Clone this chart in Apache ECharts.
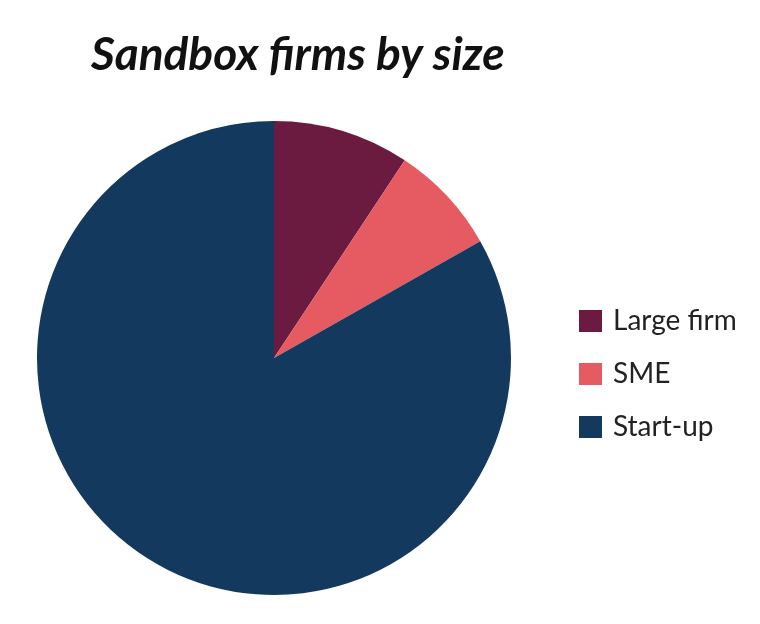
<!DOCTYPE html>
<html>
<head>
<meta charset="utf-8">
<script src="https://cdn.jsdelivr.net/npm/echarts@6/dist/echarts.min.js"></script>
<style>
html,body{margin:0;padding:0;background:#fff;}
#chart{width:760px;height:624px;}
</style>
</head>
<body>
<div id="chart"></div>
<script>
// firm sizes, share of sandbox firms (%)
var categories = ['Large firm', 'SME', 'Start-up'];
var shares = [9.3, 7.5, 83.2];
var colors = ['#6B1B3F', '#E65A61', '#133A5E'];

var myChart = echarts.init(document.getElementById('chart'));
var option = {
    backgroundColor: '#fff',
    animation: false,
    color: colors,
    title: {
        text: 'Sandbox firms by size',
        left: 86,
        top: 27,
        textStyle: {
            fontFamily: 'Lato',
            fontStyle: 'italic',
            fontWeight: 'bold',
            fontSize: 46,
            color: '#111'
        }
    },
    legend: {
        orient: 'vertical',
        left: 574,
        top: 302,
        icon: 'rect',
        itemWidth: 23,
        itemHeight: 22,
        itemGap: 25,
        data: categories,
        textStyle: {
            fontFamily: 'Lato',
            fontSize: 28,
            color: '#222',
            padding: [0, 0, 0, 6]
        }
    },
    series: [{
        type: 'pie',
        center: [274, 358],
        radius: [0, 237],
        startAngle: 90,
        clockwise: true,
        label: { show: false },
        labelLine: { show: false },
        emphasis: { disabled: true },
        itemStyle: { borderWidth: 0 },
        data: categories.map(function (c, i) {
            return { name: c, value: shares[i] };
        })
    }]
};
myChart.setOption(option);
</script>
</body>
</html>
